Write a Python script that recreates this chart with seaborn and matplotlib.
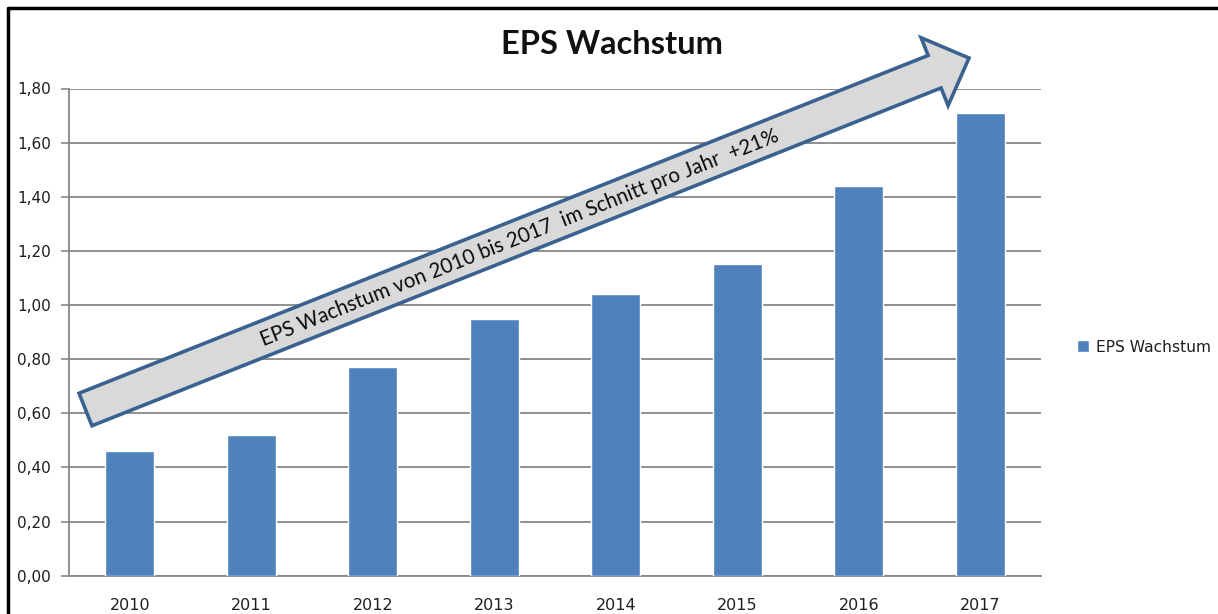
import numpy as np
import pandas as pd
import seaborn as sns
import matplotlib.pyplot as plt
import matplotlib.transforms as mtransforms
from matplotlib.patches import FancyArrow
from matplotlib.lines import Line2D

# Daten
jahre = ['2010', '2011', '2012', '2013', '2014', '2015', '2016', '2017']
eps = [0.46, 0.52, 0.77, 0.95, 1.04, 1.15, 1.44, 1.71]
serie = 'EPS Wachstum'
y_ticks = [0.0, 0.2, 0.4, 0.6, 0.8, 1.0, 1.2, 1.4, 1.6, 1.8]
titel = 'EPS Wachstum'
pfeil_text = 'EPS Wachstum von 2010 bis 2017  im Schnitt pro Jahr  +21%'

df = pd.DataFrame({'Jahr': jahre, 'EPS': eps, 'Serie': serie})

sns.set_style('white')
plt.rcParams['font.family'] = ['DejaVu Sans']

W, H = 1218, 614
fig = plt.figure(figsize=(W / 100, H / 100), dpi=100)
ax = fig.add_axes([69 / W, 1 - 575.7 / H, (1041 - 69) / W, (575.7 - 88.5) / H])

grau = '#878787'
sns.barplot(data=df, x='Jahr', y='EPS', hue='Serie', palette=['#4F81BD'],
            width=0.4, saturation=1, ax=ax, zorder=3)

ax.set_xlim(-0.5, len(jahre) - 0.5)
ax.set_ylim(0, 1.8)
ax.set_yticks(y_ticks)
ax.set_yticklabels([f'{v:.2f}'.replace('.', ',') for v in y_ticks], fontsize=11, color='#1f1f1f')
ax.set_xticks(range(len(jahre)))
ax.set_xticklabels(jahre, fontsize=11.5, color='#1f1f1f')
ax.set_xticks(np.arange(-0.5, len(jahre)), minor=True)
ax.tick_params(axis='x', which='major', length=0, pad=16)
ax.tick_params(axis='x', which='minor', length=6, width=1.2, color=grau, direction='out')
ax.tick_params(axis='y', length=6, width=1.2, color=grau, direction='out', pad=7, left=True)
ax.yaxis.grid(True, color=grau, linewidth=1.3, zorder=0)
ax.set_axisbelow(True)
ax.set_xlabel('')
ax.set_ylabel('')
for s in ['top', 'right']:
    ax.spines[s].set_visible(False)
for s in ['left', 'bottom']:
    ax.spines[s].set_color(grau)
    ax.spines[s].set_linewidth(1.3)

leg = ax.legend(loc='center left', bbox_to_anchor=(1063 / W, 1 - 347 / H),
                bbox_transform=fig.transFigure, frameon=False, fontsize=11.2,
                handlelength=0.75, handleheight=0.75, handletextpad=0.45)
for t in leg.get_texts():
    t.set_color('#1f1f1f')

# Titel
fig.text(612 / W, 1 - 44 / H, titel, ha='center', va='center',
         fontsize=23.5, fontweight='bold', family='Lato', color='#111111')

# Pfeil (in Bildpixeln)
px = mtransforms.Affine2D().scale(1 / W, -1 / H).translate(0, 1) + fig.transFigure
x0, y0 = 85.5, 409.5
x1, y1 = 969, 58
pfeil = FancyArrow(x0, y0, x1 - x0, y1 - y0, width=35, head_width=73, head_length=37,
                   length_includes_head=True, transform=px, facecolor='#d9d9d9',
                   edgecolor='#3a6290', linewidth=2.6, joinstyle='miter', zorder=10)
fig.add_artist(pfeil)
winkel = np.degrees(np.arctan2(y0 - y1, x1 - x0))
fig.text(520 / W, 1 - 238 / H, pfeil_text, ha='center', va='center', rotation=winkel,
         rotation_mode='anchor', fontsize=14.8, family='Lato', color='#0a0a0a', zorder=11)

# Rahmen oben und links
fig.add_artist(Line2D([8 / W, 8 / W], [0, 1 - 8 / H], transform=fig.transFigure,
                      color='black', linewidth=2.5))
fig.add_artist(Line2D([8 / W, 1], [1 - 8 / H, 1 - 8 / H], transform=fig.transFigure,
                      color='black', linewidth=2.5))

fig.savefig('out.png', dpi=100, facecolor='white')
